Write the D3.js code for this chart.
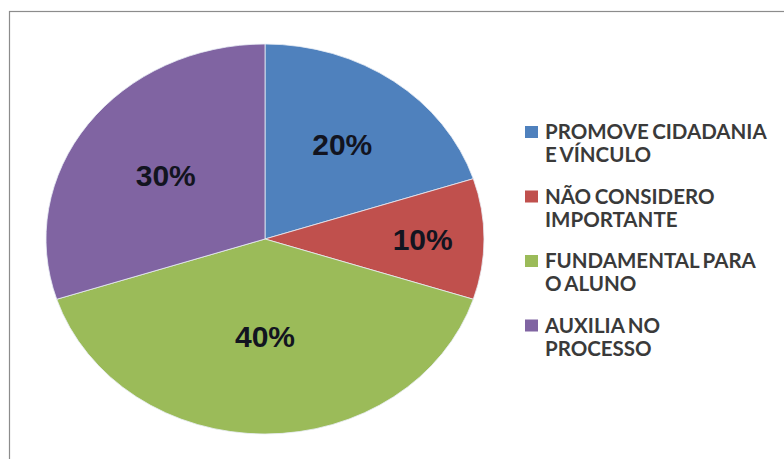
<!DOCTYPE html>
<html>
<head>
<meta charset="utf-8">
<script src="https://cdn.jsdelivr.net/npm/d3@7"></script>
<style>
  html, body { margin: 0; padding: 0; background: #fff; }
  svg { display: block; }
</style>
</head>
<body>
<svg id="chart" width="784" height="459"></svg>
<script>
// Response categories (legend lines) and their shares in percent
const categories = [
  ["PROMOVE CIDADANIA", "E VÍNCULO"],
  ["NÃO CONSIDERO", "IMPORTANTE"],
  ["FUNDAMENTAL PARA", "O ALUNO"],
  ["AUXILIA NO", "PROCESSO"]
];
const values = [20, 10, 40, 30];
const colors = ["#4F81BD", "#C0504D", "#9BBB59", "#8064A2"];

// Layout
const W = 784, H = 459;
const cx = 265, cy = 239;
const rx = 219, ry = 195;
// radial position of each percentage label, as a fraction of the radius
const labelRadius = [0.6, 0.72, 0.5, 0.56];

const svg = d3.select("#chart");

// chart frame
svg.append("rect")
  .attr("x", 9.5).attr("y", 11.5)
  .attr("width", W).attr("height", H)
  .attr("fill", "#fff")
  .attr("stroke", "#8c8c8c")
  .attr("stroke-width", 1.2);

const pie = d3.pie().sort(null).value(d => d)(values);
const arc = d3.arc().innerRadius(0).outerRadius(ry);

// pie drawn as a circle and stretched horizontally into an ellipse
const g = svg.append("g")
  .attr("transform", `translate(${cx},${cy}) scale(${rx / ry},1)`);

g.selectAll("path")
  .data(pie)
  .join("path")
  .attr("d", arc)
  .attr("fill", (d, i) => colors[i])
  .attr("stroke", "#e9eef5")
  .attr("stroke-width", 0.8)
  .attr("vector-effect", "non-scaling-stroke");

// percentage labels
svg.append("g")
  .selectAll("text")
  .data(pie)
  .join("text")
  .attr("x", (d, i) => {
    const a = (d.startAngle + d.endAngle) / 2;
    return cx + Math.sin(a) * rx * labelRadius[i];
  })
  .attr("y", (d, i) => {
    const a = (d.startAngle + d.endAngle) / 2;
    return cy - Math.cos(a) * ry * labelRadius[i];
  })
  .attr("text-anchor", "middle")
  .attr("dy", "0.36em")
  .attr("font-family", "Liberation Sans, Arial, sans-serif")
  .attr("font-weight", "bold")
  .attr("font-size", 30)
  .attr("fill", "#121420")
  .text(d => d.data + "%");

// legend
const legend = svg.append("g").attr("transform", "translate(525,0)");
const rows = legend.selectAll("g")
  .data(categories)
  .join("g")
  .attr("transform", (d, i) => `translate(0,${139 + i * 64.5})`);

rows.append("rect")
  .attr("x", 0).attr("y", -13)
  .attr("width", 13).attr("height", 12)
  .attr("fill", (d, i) => colors[i]);

rows.each(function(lines) {
  const t = d3.select(this).append("text")
    .attr("font-family", "Lato, 'Open Sans', sans-serif")
    .attr("font-weight", "bold")
    .attr("font-size", 20.5)
    .attr("word-spacing", -1.5)
    .attr("fill", "#3a3a3a");
  lines.forEach((ln, j) => {
    t.append("tspan")
      .attr("x", 20)
      .attr("y", j * 23)
      .text(ln);
  });
});
</script>
</body>
</html>
